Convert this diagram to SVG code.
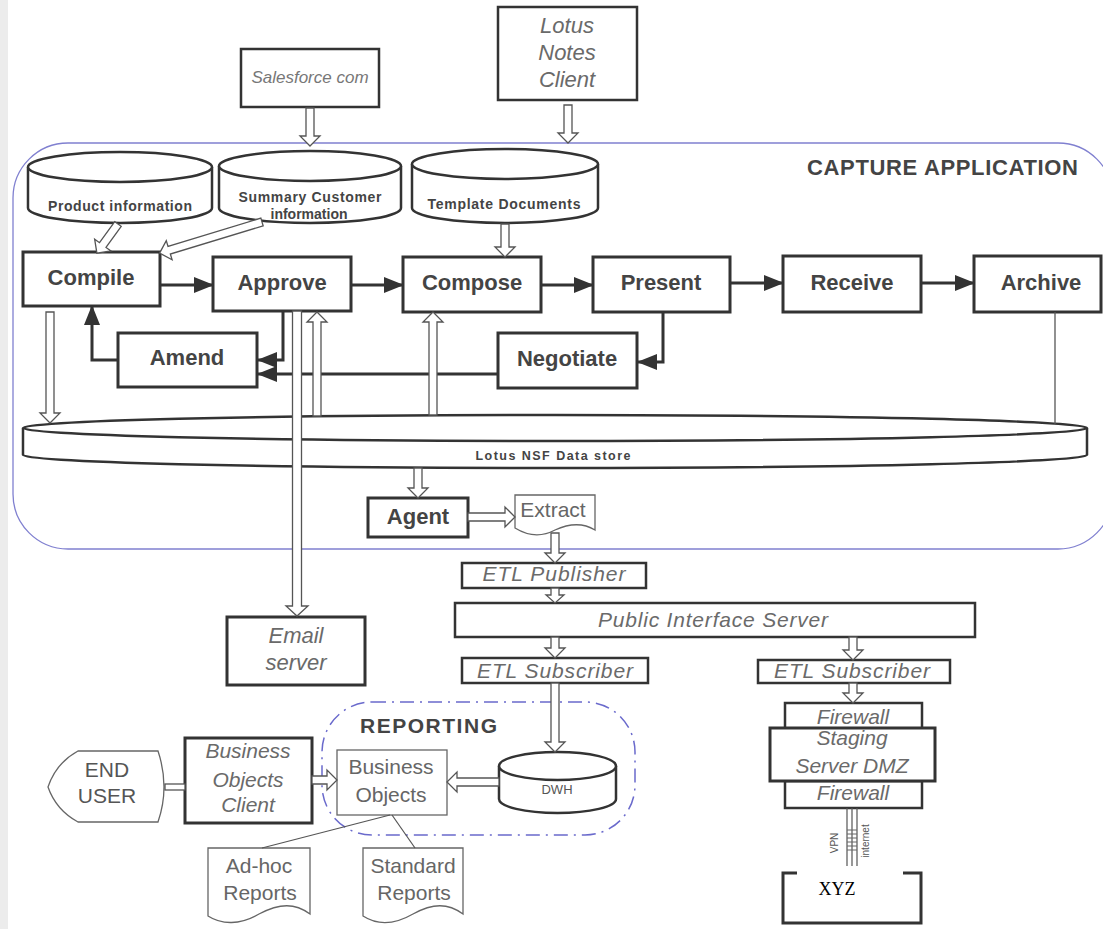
<svg xmlns="http://www.w3.org/2000/svg" width="1103" height="929" viewBox="0 0 1103 929">
<style>
.box{fill:#fff;stroke:#333;stroke-width:3}
.mbox{fill:#fff;stroke:#333;stroke-width:2.5}
.tbox{fill:#fff;stroke:#666;stroke-width:1.3}
.pt{font:bold 22px 'Liberation Sans',Arial,sans-serif;fill:#444;text-anchor:middle}
.it{font:italic 21px 'Liberation Sans',Arial,sans-serif;fill:#6a6a6a;text-anchor:middle}
.nt{font:21px 'Liberation Sans',Arial,sans-serif;fill:#666;text-anchor:middle}
.ct{font:bold 14px 'Liberation Sans',Arial,sans-serif;fill:#444;text-anchor:middle}
.cyl{fill:#fff;stroke:#333;stroke-width:2.5}
.ha{fill:#fff;stroke:#555;stroke-width:1.3}
.sc{fill:none;stroke:#333;stroke-width:3}
.ln{fill:none;stroke:#555;stroke-width:1.2}
</style>
<defs>
<marker id="ah" markerUnits="userSpaceOnUse" markerWidth="20" markerHeight="16" refX="19" refY="8" orient="auto"><path d="M0,0 L20,8 L0,16 Z" fill="#333"/></marker>
</defs>
<rect x="0" y="0" width="1103" height="929" fill="#fff"/>
<rect x="0" y="0" width="8" height="929" fill="#ececec"/>

<g id="capture-application">
<rect x="13" y="143" width="1100" height="406" rx="55" fill="none" stroke="#8080d0" stroke-width="1.3"/>
<text x="1078" y="175" text-anchor="end" style="font:bold 22px 'Liberation Sans',Arial,sans-serif;fill:#444" textLength="271">CAPTURE APPLICATION</text>
</g>

<g id="reporting">
<rect x="322" y="702" width="313" height="133" rx="50" fill="none" stroke="#6a6acc" stroke-width="1.5" stroke-dasharray="14,6,2,6"/>
<text x="360" y="733" style="font:bold 21px 'Liberation Sans',Arial,sans-serif;fill:#444" textLength="137">REPORTING</text>
</g>

<g id="salesforce">
<rect class="mbox" x="241" y="49" width="138" height="58"/>
<text class="it" x="310" y="83" style="font-size:17px;fill:#777">Salesforce com</text>
</g>

<g id="lotus-notes-client">
<rect class="mbox" x="498" y="7" width="139" height="93"/>
<text class="it" x="567" y="33" style="font-size:22px">Lotus</text>
<text class="it" x="567" y="60" style="font-size:22px">Notes</text>
<text class="it" x="567" y="87" style="font-size:22px">Client</text>
</g>

<g id="product-information">
<path class="cyl" d="M28,167 A92,15 0 0 1 212,167 V208 A92,15 0 0 1 28,208 Z"/>
<path class="cyl" fill="none" d="M28,167 A92,15 0 0 0 212,167"/>
<text class="ct" x="120" y="211" textLength="144">Product information</text>
</g>

<g id="summary-customer-information">
<path class="cyl" d="M219,166 A91,15 0 0 1 401,166 V208 A91,15 0 0 1 219,208 Z"/>
<path class="cyl" fill="none" d="M219,166 A91,15 0 0 0 401,166"/>
<text class="ct" x="310" y="202" textLength="143">Summary Customer</text>
<text class="ct" x="309" y="219">information</text>
</g>

<g id="template-documents">
<path class="cyl" d="M412,164 A93,15 0 0 1 598,164 V208 A93,15 0 0 1 412,208 Z"/>
<path class="cyl" fill="none" d="M412,164 A93,15 0 0 0 598,164"/>
<text class="ct" x="504" y="209" textLength="153">Template Documents</text>
</g>

<g id="compile"><rect class="box" x="23" y="252" width="137" height="54"/><text class="pt" x="91" y="285">Compile</text></g>
<g id="approve"><rect class="box" x="213" y="257" width="138" height="54"/><text class="pt" x="282" y="290">Approve</text></g>
<g id="compose"><rect class="box" x="403" y="257" width="138" height="55"/><text class="pt" x="472" y="290">Compose</text></g>
<g id="present"><rect class="box" x="593" y="257" width="137" height="55"/><text class="pt" x="661" y="290">Present</text></g>
<g id="receive"><rect class="box" x="783" y="256" width="138" height="56"/><text class="pt" x="852" y="290">Receive</text></g>
<g id="archive"><rect class="box" x="974" y="256" width="127" height="56"/><text class="pt" x="1041" y="290">Archive</text></g>
<g id="amend"><rect class="box" x="118" y="333" width="139" height="54"/><text class="pt" x="187" y="365">Amend</text></g>
<g id="negotiate"><rect class="box" x="498" y="333" width="139" height="55"/><text class="pt" x="567" y="366">Negotiate</text></g>

<g id="lotus-nsf-data-store">
<path class="cyl" d="M23,428 A532,13 0 0 1 1087,428 V455 A532,13 0 0 1 23,455 Z"/>
<path class="cyl" fill="none" d="M23,428 A532,13 0 0 0 1087,428"/>
<text x="553" y="460" text-anchor="middle" style="font:bold 12.5px 'Liberation Sans',Arial,sans-serif;fill:#444" textLength="155">Lotus NSF Data store</text>
</g>

<g id="agent"><rect class="box" x="368" y="498" width="100" height="39"/><text class="pt" x="418" y="524">Agent</text></g>

<g id="extract">
<path class="tbox" d="M515,495 H595 V530 C582,522 568,524 555,530 C542,537 528,536 515,528 Z"/>
<text class="nt" x="553" y="517" style="font-size:21px">Extract</text>
</g>

<g id="etl-publisher"><rect class="mbox" x="462" y="563" width="184" height="25"/><text class="it" x="554" y="581" textLength="143">ETL Publisher</text></g>
<g id="public-interface-server"><rect class="mbox" x="455" y="603" width="520" height="34"/><text class="it" x="713" y="627" textLength="230">Public Interface Server</text></g>
<g id="etl-subscriber-left"><rect class="mbox" x="462" y="658" width="186" height="25"/><text class="it" x="555" y="678" textLength="156">ETL Subscriber</text></g>
<g id="etl-subscriber-right"><rect class="mbox" x="758" y="660" width="192" height="23"/><text class="it" x="852" y="678" textLength="156">ETL Subscriber</text></g>

<g id="email-server">
<rect class="box" x="227" y="617" width="138" height="68"/>
<text class="it" x="296" y="643" style="font-size:22px">Email</text>
<text class="it" x="296" y="670" style="font-size:22px">server</text>
</g>

<g id="firewall-top"><rect class="mbox" x="785" y="703" width="137" height="26"/><text class="it" x="853" y="724">Firewall</text></g>
<g id="firewall-bottom"><rect class="mbox" x="785" y="781" width="137" height="27"/><text class="it" x="853" y="800">Firewall</text></g>
<g id="staging-server-dmz">
<rect class="box" x="770" y="728" width="165" height="53"/>
<text class="it" x="852" y="745">Staging</text>
<text class="it" x="852" y="773">Server DMZ</text>
</g>

<g id="xyz">
<path d="M797,873 H783 V923 H921 V873 H903" fill="none" stroke="#333" stroke-width="3"/>
<text x="837" y="895" text-anchor="middle" style="font:18px 'Liberation Serif','Times New Roman',serif;fill:#000">XYZ</text>
</g>

<g id="end-user">
<path class="tbox" d="M78,751 H158 Q170,787 158,822 H78 Q56,810 48,787 Q56,763 78,751 Z"/>
<text class="nt" x="107" y="777" style="fill:#555">END</text>
<text class="nt" x="107" y="803" style="fill:#555">USER</text>
</g>

<g id="business-objects-client">
<rect class="box" x="185" y="738" width="127" height="85"/>
<text class="it" x="248" y="758">Business</text>
<text class="it" x="248" y="787">Objects</text>
<text class="it" x="248" y="812">Client</text>
</g>

<g id="business-objects">
<rect class="tbox" x="337" y="750" width="110" height="65"/>
<text class="nt" x="391" y="774">Business</text>
<text class="nt" x="391" y="802">Objects</text>
</g>

<g id="dwh">
<path class="cyl" d="M499,766 A58.5,14 0 0 1 616,766 V799 A58.5,14 0 0 1 499,799 Z"/>
<path class="cyl" fill="none" d="M499,766 A58.5,14 0 0 0 616,766"/>
<text x="557" y="794" text-anchor="middle" style="font:13px 'Liberation Sans',Arial,sans-serif;fill:#555">DWH</text>
</g>

<g id="ad-hoc-reports">
<path class="tbox" d="M208,848 H310 V914 C295,903 280,903 259,914 C240,925 222,925 208,916 Z"/>
<text class="nt" x="259" y="873">Ad-hoc</text>
<text class="nt" x="260" y="900">Reports</text>
</g>

<g id="standard-reports">
<path class="tbox" d="M363,848 H463 V914 C448,903 433,903 413,914 C394,925 377,925 363,916 Z"/>
<text class="nt" x="413" y="873">Standard</text>
<text class="nt" x="414" y="900">Reports</text>
</g>

<g id="connectors">
<path class="sc" marker-end="url(#ah)" d="M160,285 H213"/>
<path class="sc" marker-end="url(#ah)" d="M351,285 H403"/>
<path class="sc" marker-end="url(#ah)" d="M541,285 H593"/>
<path class="sc" marker-end="url(#ah)" d="M730,283 H783"/>
<path class="sc" marker-end="url(#ah)" d="M921,283 H974"/>
<path class="sc" marker-end="url(#ah)" d="M118,360 H92 V306"/>
<path class="sc" marker-end="url(#ah)" d="M283,311 V360 H258"/>
<path class="sc" marker-end="url(#ah)" d="M498,374 H258"/>
<path class="sc" marker-end="url(#ah)" d="M663,312 V362 H638"/>
<path d="M1055,312 V424" fill="none" stroke="#555" stroke-width="1.3"/>
<path class="ln" d="M390,815 L262,848"/>
<path class="ln" d="M392,815 L415,848"/>
<rect class="ha" x="165" y="784" width="20" height="6"/>

<polygon class="ha" transform="translate(310,108) rotate(90)" points="0,-4 28,-4 28,-10 38,0 28,10 28,4 0,4"/>
<polygon class="ha" transform="translate(568,105) rotate(90)" points="0,-4 28,-4 28,-10 38,0 28,10 28,4 0,4"/>
<polygon class="ha" transform="translate(505,224) rotate(90)" points="0,-4 23,-4 23,-10 33,0 23,10 23,4 0,4"/>
<polygon class="ha" transform="translate(118,224) rotate(125.9)" points="0,-4 26,-4 26,-10 36,0 26,10 26,4 0,4"/>
<polygon class="ha" transform="translate(262,222) rotate(163.1)" points="0,-4 97,-4 97,-10 107,0 97,10 97,4 0,4"/>
<polygon class="ha" transform="translate(50,312) rotate(90)" points="0,-4 101,-4 101,-10 111,0 101,10 101,4 0,4"/>
<polygon class="ha" transform="translate(317,416) rotate(-90)" points="0,-4 94,-4 94,-10 104,0 94,10 94,4 0,4"/>
<polygon class="ha" transform="translate(433,415) rotate(-90)" points="0,-4 93,-4 93,-10 103,0 93,10 93,4 0,4"/>
<polygon class="ha" transform="translate(297,311) rotate(90)" points="0,-4.5 295,-4.5 295,-11 305,0 295,11 295,4.5 0,4.5"/>
<polygon class="ha" transform="translate(418,468) rotate(90)" points="0,-4 20,-4 20,-10 30,0 20,10 20,4 0,4"/>
<polygon class="ha" transform="translate(468,517) rotate(0)" points="0,-4 37,-4 37,-10 47,0 37,10 37,4 0,4"/>
<polygon class="ha" transform="translate(555,533) rotate(90)" points="0,-4 20,-4 20,-10 30,0 20,10 20,4 0,4"/>
<polygon class="ha" transform="translate(555,588) rotate(90)" points="0,-4 7,-4 7,-9 15,0 7,9 7,4 0,4"/>
<polygon class="ha" transform="translate(555,637) rotate(90)" points="0,-4 11,-4 11,-10 21,0 11,10 11,4 0,4"/>
<polygon class="ha" transform="translate(555,683) rotate(90)" points="0,-4 59,-4 59,-10 69,0 59,10 59,4 0,4"/>
<polygon class="ha" transform="translate(853,637) rotate(90)" points="0,-4 13,-4 13,-10 23,0 13,10 13,4 0,4"/>
<polygon class="ha" transform="translate(853,683) rotate(90)" points="0,-4 10,-4 10,-10 20,0 10,10 10,4 0,4"/>
<polygon class="ha" transform="translate(499,782) rotate(180)" points="0,-4 42,-4 42,-10 52,0 42,10 42,4 0,4"/>
<polygon class="ha" transform="translate(312,780) rotate(0)" points="0,-4 15,-4 15,-10 25,0 15,10 15,4 0,4"/>

<g id="vpn-link">
<path d="M847,808 V866 M852,808 V866 M857,808 V866" fill="none" stroke="#555" stroke-width="1.2"/>
<path d="M847,830 H857 M847,834 H857 M847,838 H857 M847,842 H857 M847,846 H857 M847,850 H857" fill="none" stroke="#666" stroke-width="1"/>
<text transform="translate(838,843) rotate(-90)" text-anchor="middle" style="font:10px 'Liberation Sans',Arial,sans-serif;fill:#555">VPN</text>
<text transform="translate(869,841) rotate(-90)" text-anchor="middle" style="font:10px 'Liberation Sans',Arial,sans-serif;fill:#555">internet</text>
</g>
</g>
</svg>
